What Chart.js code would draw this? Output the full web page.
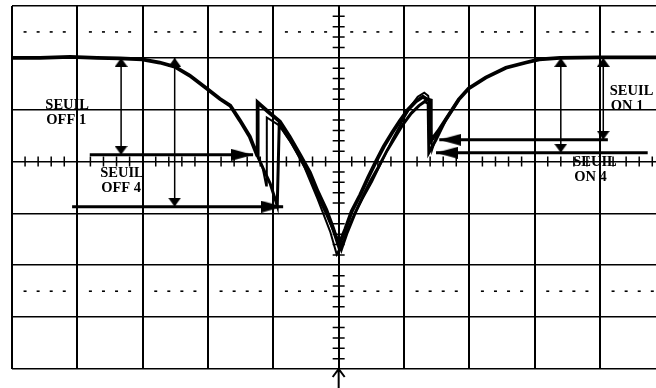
<!DOCTYPE html>
<html>
<head>
<meta charset="utf-8">
<script src="https://cdn.jsdelivr.net/npm/chart.js@4.4.1/dist/chart.umd.min.js"></script>
<style>
  html, body { margin: 0; padding: 0; background: #fff; }
  #wrap { width: 656px; height: 388px; position: relative; }
</style>
</head>
<body>
<div id="wrap"><canvas id="scope"></canvas></div>
<script>
// all values in screen divisions (x: time div, y: volt div), centre = 0,0

// sweep with SEUIL OFF 1 / ON 1
const sweep1X = [-5.00,-4.57,-4.11,-3.70,-3.35,-3.01,-2.74,-2.51,-2.28,-2.02,-1.82,-1.66,-1.51,-1.36,-1.25,-1.24,-1.08,-0.90,-0.75,-0.59,-0.44,-0.32,-0.19,-0.09,0.00,0.10,0.20,0.33,0.45,0.57,0.69,0.82,0.94,1.06,1.18,1.29,1.35,1.41,1.41,1.52,1.64,1.84,1.99,2.25,2.56,2.87,3.07,3.39,4.00,4.86];
const sweep1Y = [2.00,2.00,2.02,2.00,1.99,1.97,1.91,1.83,1.66,1.41,1.21,1.08,0.79,0.48,0.13,1.14,0.96,0.77,0.48,0.13,-0.21,-0.58,-0.93,-1.27,-1.62,-1.31,-0.96,-0.64,-0.31,0.00,0.29,0.56,0.79,1.00,1.16,1.25,1.20,1.18,0.40,0.58,0.81,1.20,1.41,1.62,1.81,1.91,1.97,2.00,2.01,2.01];

// sweep with SEUIL OFF 4 / ON 4
const sweep2X = [-1.25,-1.16,-1.05,-0.94,-0.91,-0.75,-0.59,-0.44,-0.32,-0.19,-0.07,0.04,0.13,0.25,0.37,0.49,0.62,0.74,0.86,0.98,1.11,1.23,1.32,1.37,1.38,1.49,1.64,1.84];
const sweep2Y = [0.13,-0.12,-0.42,-0.85,0.71,0.42,0.08,-0.29,-0.66,-1.00,-1.35,-1.70,-1.37,-1.00,-0.67,-0.37,-0.08,0.21,0.46,0.71,0.93,1.08,1.16,1.12,0.17,0.42,0.81,1.20];

// intermediate sweep
const sweep3X = [-1.25,-1.17,-1.11,-1.10,-0.90,-0.71,-0.52,-0.32,-0.13,-0.03,0.08,0.20,0.36,0.51,0.66,0.82,0.97,1.09,1.21,1.31,1.37,1.40,1.43,1.52];
const sweep3Y = [0.13,-0.08,-0.46,0.85,0.69,0.33,-0.12,-0.73,-1.35,-1.79,-1.50,-1.12,-0.73,-0.39,0.00,0.42,0.77,1.04,1.25,1.33,1.27,1.00,0.23,0.58];

// threshold arrows
const seuilNames = ['OFF 1', 'OFF 4', 'ON 1', 'ON 4'];
const seuilLevel = [0.13, -0.87, 0.42, 0.17];
const seuilFrom  = [-3.81, -4.08, 4.12, 4.73];
const seuilTo    = [-1.31, -0.85, 1.54, 1.49];
const seuilDropX = [-3.33, -2.51, 4.05, 3.40];
const seuilTop   = 2.00;
const labelX = [-4.49, -3.65, 4.15, 3.59];
const labelY = [1.02, -0.29, 1.29, -0.08];

function pts(xs, ys) { return xs.map((v, i) => ({ x: v, y: ys[i] })); }

function headImage(len, wid) {
  const c = document.createElement('canvas');
  c.width = wid; c.height = len * 2;
  const g = c.getContext('2d');
  g.fillStyle = '#000';
  g.beginPath();
  g.moveTo(wid / 2, len);
  g.lineTo(wid, len * 2);
  g.lineTo(0, len * 2);
  g.closePath();
  g.fill();
  return c;
}
const bigHead = headImage(22, 12);
const smallHead = headImage(9, 13);

const traceStyle = (w) => ({ showLine: true, borderColor: '#000', borderWidth: w, pointRadius: 0, tension: 0, fill: false });

const datasets = [
  { data: pts(sweep1X, sweep1Y), ...traceStyle(3.8) },
  { data: pts(sweep2X, sweep2Y), ...traceStyle(3) },
  { data: pts(sweep3X, sweep3Y), ...traceStyle(2) }
];

seuilNames.forEach((n, i) => {
  datasets.push({
    showLine: true, borderColor: '#000', borderWidth: 3,
    data: [{ x: seuilFrom[i], y: seuilLevel[i] }, { x: seuilTo[i], y: seuilLevel[i] }],
    pointStyle: bigHead, pointRadius: [0, 6],
    pointRotation: [0, seuilTo[i] > seuilFrom[i] ? 90 : 270]
  });
  datasets.push({
    showLine: true, borderColor: '#000', borderWidth: 1.5,
    data: [{ x: seuilDropX[i], y: seuilTop }, { x: seuilDropX[i], y: seuilLevel[i] }],
    pointStyle: smallHead, pointRadius: [5, 5], pointRotation: [0, 180]
  });
});

const graticule = {
  id: 'graticule',
  beforeDatasetsDraw(chart) {
    const { ctx, chartArea: a, scales: { x, y } } = chart;
    const x0 = x.getPixelForValue(0), y0 = y.getPixelForValue(0);
    ctx.save();
    ctx.strokeStyle = '#000';
    ctx.fillStyle = '#000';
    ctx.lineWidth = 1.5;
    ctx.beginPath();
    for (let k = -25; k <= 25; k++) {
      if (k % 5 === 0) continue;
      const px = x.getPixelForValue(k / 5);
      if (px > a.right) continue;
      ctx.moveTo(px, y0 - 5); ctx.lineTo(px, y0 + 5);
    }
    for (let k = -20; k <= 15; k++) {
      if (k % 5 === 0) continue;
      const py = y.getPixelForValue(k / 5);
      ctx.moveTo(x0 - 6, py); ctx.lineTo(x0 + 6, py);
    }
    ctx.stroke();
    // dotted 0% / 100% lines
    for (const lv of [2.5, -2.5]) {
      const py = y.getPixelForValue(lv);
      for (let k = -24; k <= 25; k++) {
        if (k % 5 === 0) continue;
        const px = x.getPixelForValue(k / 5);
        ctx.fillRect(px - 1.5, py - 0.8, 3, 1.6);
      }
    }
    // trigger marker below screen
    ctx.lineWidth = 2;
    ctx.beginPath();
    ctx.moveTo(x0, a.bottom); ctx.lineTo(x0, chart.height);
    ctx.moveTo(x0 - 6, a.bottom + 8); ctx.lineTo(x0, a.bottom); ctx.lineTo(x0 + 6, a.bottom + 8);
    ctx.stroke();
    ctx.restore();
  },
  afterDatasetsDraw(chart) {
    const { ctx, scales: { x, y } } = chart;
    ctx.save();
    ctx.fillStyle = '#000';
    ctx.font = 'bold 14.5px "Liberation Serif"';
    seuilNames.forEach((n, i) => {
      const px = x.getPixelForValue(labelX[i]), py = y.getPixelForValue(labelY[i]);
      ctx.fillText('SEUIL', px, py);
      ctx.fillText(n, px + 1, py + 15);
    });
    ctx.restore();
  }
};

new Chart(document.getElementById('scope'), {
  type: 'scatter',
  data: { datasets },
  options: {
    responsive: true,
    maintainAspectRatio: false,
    animation: false,
    events: [],
    layout: { autoPadding: false, padding: { left: 12, top: 6, right: 0, bottom: 19 } },
    plugins: { legend: { display: false }, tooltip: { enabled: false } },
    scales: {
      x: {
        type: 'linear', min: -5, max: 4.857,
        ticks: { display: false, stepSize: 1, includeBounds: false },
        grid: { color: '#000', lineWidth: 2, drawTicks: false },
        border: { display: false },
        afterFit(s) { s.height = 0; }
      },
      y: {
        type: 'linear', min: -4, max: 3,
        ticks: { display: false, stepSize: 1 },
        grid: { color: '#000', lineWidth: 1.6, drawTicks: false },
        border: { display: false },
        afterFit(s) { s.width = 0; }
      }
    }
  },
  plugins: [graticule]
});
</script>
</body>
</html>
